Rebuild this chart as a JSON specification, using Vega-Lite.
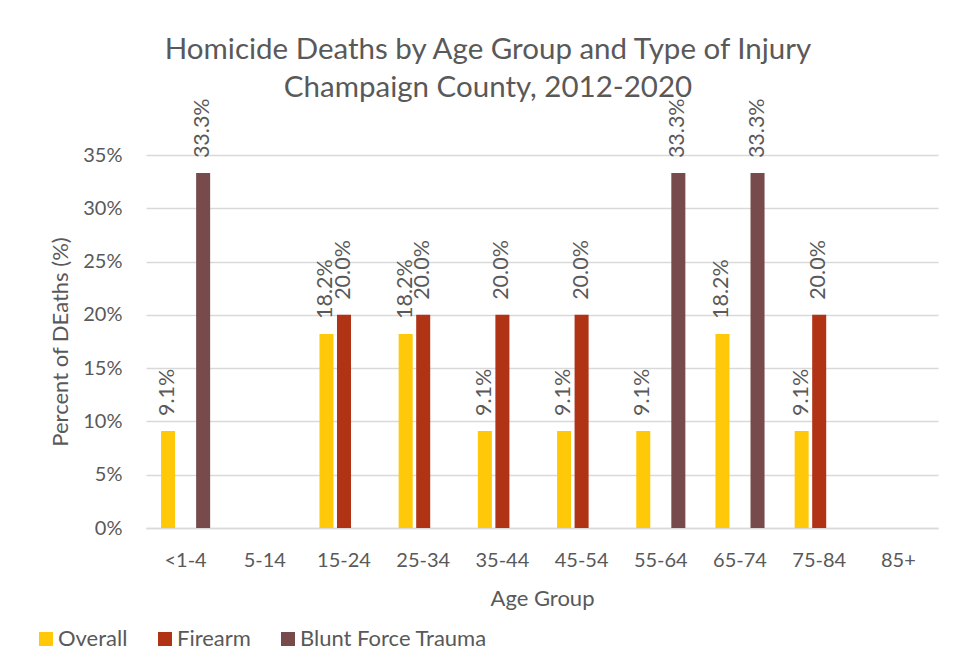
{
  "$schema": "https://vega.github.io/schema/vega-lite/v6.json",
  "width": 792,
  "height": 373,
  "autosize": {"type": "none"},
  "padding": {"left": 146, "top": 155, "right": 33, "bottom": 133},
  "background": "white",
  "title": {
    "text": ["Homicide Deaths by Age Group and Type of Injury", "Champaign County, 2012-2020"],
    "font": "Lato",
    "fontSize": 29.5,
    "fontWeight": "normal",
    "color": "#595959",
    "lineHeight": 38,
    "anchor": "middle",
    "dx": -54,
    "offset": -5
  },
  "data": {
    "values": [
      {"age": "<1-4", "type": "Overall", "pct": 0.091},
      {"age": "<1-4", "type": "Blunt Force Trauma", "pct": 0.333},
      {"age": "15-24", "type": "Overall", "pct": 0.182},
      {"age": "15-24", "type": "Firearm", "pct": 0.2},
      {"age": "25-34", "type": "Overall", "pct": 0.182},
      {"age": "25-34", "type": "Firearm", "pct": 0.2},
      {"age": "35-44", "type": "Overall", "pct": 0.091},
      {"age": "35-44", "type": "Firearm", "pct": 0.2},
      {"age": "45-54", "type": "Overall", "pct": 0.091},
      {"age": "45-54", "type": "Firearm", "pct": 0.2},
      {"age": "55-64", "type": "Overall", "pct": 0.091},
      {"age": "55-64", "type": "Blunt Force Trauma", "pct": 0.333},
      {"age": "65-74", "type": "Overall", "pct": 0.182},
      {"age": "65-74", "type": "Blunt Force Trauma", "pct": 0.333},
      {"age": "75-84", "type": "Overall", "pct": 0.091},
      {"age": "75-84", "type": "Firearm", "pct": 0.2}
    ]
  },
  "encoding": {
    "x": {
      "field": "age",
      "type": "nominal",
      "scale": {
        "domain": ["<1-4", "5-14", "15-24", "25-34", "35-44", "45-54", "55-64", "65-74", "75-84", "85+"],
        "paddingInner": 0.38,
        "paddingOuter": 0.19
      },
      "axis": {
        "title": "Age Group",
        "labelAngle": 0,
        "labelFont": "Lato",
        "labelFontSize": 20,
        "labelColor": "#595959",
        "labelPadding": 22,
        "titleFont": "Lato",
        "titleFontSize": 22,
        "titleFontWeight": "normal",
        "titleColor": "#595959",
        "titlePadding": 18,
        "ticks": false,
        "domainColor": "#D9D9D9",
        "domainWidth": 1.5,
        "grid": false
      }
    },
    "xOffset": {
      "field": "type",
      "type": "nominal",
      "scale": {"domain": ["Overall", "Firearm", "Blunt Force Trauma"], "paddingInner": 0.2}
    },
    "y": {
      "field": "pct",
      "type": "quantitative",
      "scale": {"domain": [0, 0.35], "nice": false},
      "axis": {
        "title": "Percent of DEaths (%)",
        "values": [0, 0.05, 0.1, 0.15, 0.2, 0.25, 0.3, 0.35],
        "format": ".0%",
        "labelFont": "Lato",
        "labelFontSize": 20,
        "labelColor": "#595959",
        "labelPadding": 24,
        "titleFont": "Lato",
        "titleFontSize": 22,
        "titleFontWeight": "normal",
        "titleColor": "#595959",
        "titlePadding": 10,
        "ticks": false,
        "domain": false,
        "gridColor": "#D9D9D9",
        "gridWidth": 1.5
      }
    },
    "color": {
      "field": "type",
      "type": "nominal",
      "scale": {
        "domain": ["Overall", "Firearm", "Blunt Force Trauma"],
        "range": ["#FFC90A", "#B03316", "#774B4B"]
      },
      "legend": {
        "title": null,
        "orient": "none",
        "direction": "horizontal",
        "legendX": -111,
        "legendY": 473,
        "symbolType": "square",
        "symbolSize": 196,
        "symbolStrokeWidth": 0,
        "labelFont": "Lato",
        "labelFontSize": 22,
        "labelColor": "#595959",
        "labelOffset": 1,
        "labelLimit": 300,
        "columnPadding": 26,
        "padding": 0
      }
    }
  },
  "layer": [
    {"mark": {"type": "bar"}},
    {
      "mark": {
        "type": "text",
        "angle": -90,
        "align": "left",
        "baseline": "middle",
        "dx": 15,
        "font": "Lato",
        "fontSize": 21.5,
        "color": "#595959"
      },
      "encoding": {
        "text": {"field": "pct", "type": "quantitative", "format": ".1%"},
        "color": {"value": "#595959"}
      }
    }
  ],
  "config": {
    "view": {"stroke": null}
  }
}
